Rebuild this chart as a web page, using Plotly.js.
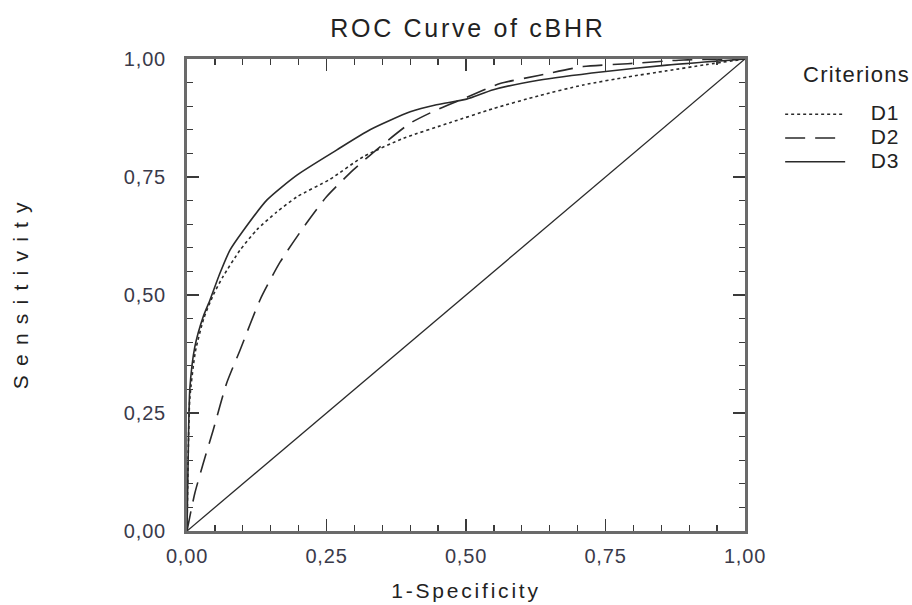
<!DOCTYPE html>
<html><head><meta charset="utf-8">
<script src="https://cdn.plot.ly/plotly-3.0.1.min.js"></script>
<style>
html,body{margin:0;padding:0;background:#fff}
#chart{width:912px;height:605px}
.gtitle{letter-spacing:2.7px}
.xtitle{letter-spacing:2.8px}
.ytitle{letter-spacing:1.7px}
.legendtitletext{font-size:22px !important;letter-spacing:1.3px}
.legendtext{font-size:21px !important;letter-spacing:1px}
.xtick text,.ytick text{letter-spacing:0.8px}
</style>
</head><body><div id="chart"></div>
<script>
const tickVals = [0, 0.25, 0.5, 0.75, 1];
const tickLabels = ["0,00", "0,25", "0,50", "0,75", "1,00"];
const seriesNames = ["D1", "D2", "D3"];
const d1Fpr = [0,0.002,0.005,0.015,0.03,0.047,0.065,0.095,0.125,0.16,0.197,0.256,0.316,0.388,0.471,0.549,0.63,0.71,0.79,0.86,0.93,1];
const d1Tpr = [0,0.15,0.28,0.38,0.45,0.50,0.54,0.595,0.638,0.675,0.708,0.745,0.793,0.832,0.865,0.895,0.922,0.945,0.962,0.975,0.988,1];
const d2Fpr = [0,0.005,0.014,0.029,0.047,0.071,0.095,0.131,0.167,0.214,0.25,0.298,0.346,0.40,0.447,0.50,0.561,0.63,0.71,0.79,0.89,1];
const d2Tpr = [0,0.03,0.08,0.143,0.214,0.313,0.383,0.49,0.57,0.652,0.708,0.765,0.814,0.864,0.892,0.918,0.948,0.965,0.984,0.99,0.998,1];
const d3Fpr = [0,0.002,0.005,0.014,0.029,0.041,0.059,0.077,0.1,0.143,0.197,0.268,0.328,0.40,0.447,0.501,0.549,0.63,0.746,0.86,1];
const d3Tpr = [0,0.15,0.30,0.39,0.454,0.489,0.546,0.595,0.635,0.701,0.754,0.807,0.85,0.888,0.903,0.915,0.935,0.955,0.973,0.987,1];
const refX = [0, 1];
const refY = [0, 1];
const minorVals = [0.05,0.1,0.15,0.2,0.3,0.35,0.4,0.45,0.55,0.6,0.65,0.7,0.8,0.85,0.9,0.95];

const pad = '\u00a0\u00a0\u00a0';
const tail = '\u00a0';
const lc = '#2a2a2a';
const traces = [
  {x: d1Fpr, y: d1Tpr, name: pad + seriesNames[0] + tail, mode: 'lines', line: {color: lc, width: 1.6, dash: '3px,3px', shape: 'spline', smoothing: 0.6}},
  {x: d2Fpr, y: d2Tpr, name: pad + seriesNames[1] + tail, mode: 'lines', line: {color: lc, width: 1.6, dash: '20px,10px', shape: 'spline', smoothing: 0.6}},
  {x: d3Fpr, y: d3Tpr, name: pad + seriesNames[2] + tail, mode: 'lines', line: {color: lc, width: 1.6, shape: 'spline', smoothing: 0.6}},
  {x: refX, y: refY, mode: 'lines', showlegend: false, line: {color: lc, width: 1.3}, hoverinfo: 'skip'}
];
const axisCommon = {
  range: [0, 1], showgrid: false, zeroline: false, showline: true, linecolor: '#6a6a6a', linewidth: 3,
  mirror: 'allticks', ticks: 'inside', ticklen: 12, tickwidth: 1.5, tickcolor: '#3a3a3a',
  tickvals: tickVals, ticktext: tickLabels, tickfont: {family: 'Liberation Sans, Arial', size: 20, color: '#3a3a4a'},
  minor: {tickvals: minorVals, ticks: 'inside', ticklen: 6, tickwidth: 1.3, tickcolor: '#3a3a3a'},
  fixedrange: true
};
const layout = {
  width: 912, height: 605,
  margin: {l: 187, r: 167, t: 59, b: 74, autoexpand: false},
  paper_bgcolor: '#fff', plot_bgcolor: '#fff',
  font: {family: 'Liberation Sans, Arial', color: '#222'},
  title: {text: 'ROC Curve of cBHR', x: 0.513, xanchor: 'center', y: 0.954, yanchor: 'middle', font: {size: 25, color: '#222'}},
  xaxis: Object.assign({}, axisCommon, {title: {text: '1-Specificity', font: {size: 21, color: '#222'}, standoff: 18}, ticklabelstandoff: 5}),
  yaxis: Object.assign({}, axisCommon, {title: {text: 'S e n s i t i v i t y', font: {size: 21, color: '#222'}, standoff: 90}, ticklabelstandoff: 14}),
  legend: {
    x: 1.063, xanchor: 'left', y: 0.985, yanchor: 'top',
    title: {text: 'Criterions<br>\u00a0', font: {size: 12, color: '#222'}, side: 'top right'},
    font: {size: 16, color: '#222'}, itemwidth: 60, tracegroupgap: 0, bgcolor: 'rgba(0,0,0,0)'
  },
  showlegend: true
};
Plotly.newPlot('chart', traces, layout, {displayModeBar: false, staticPlot: true});
</script></body></html>
